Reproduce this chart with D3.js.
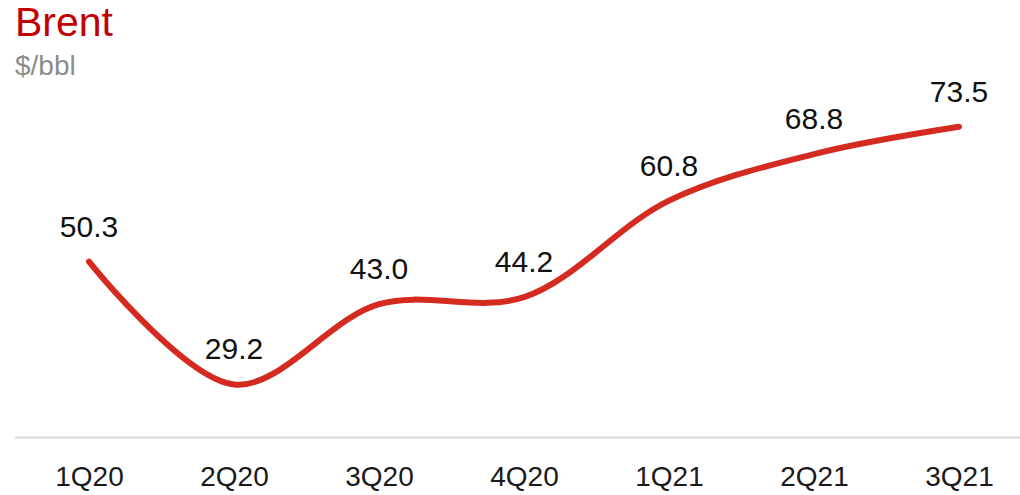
<!DOCTYPE html>
<html>
<head>
<meta charset="utf-8">
<script src="https://cdn.jsdelivr.net/npm/d3@7"></script>
<style>
  html, body { margin: 0; padding: 0; background: #ffffff; }
  svg { display: block; font-family: "Liberation Sans", Arial, sans-serif; }
</style>
</head>
<body>
<svg id="chart" width="1020" height="495"></svg>
<script>
// Quarterly Brent average price, $/bbl
const quarters = ["1Q20", "2Q20", "3Q20", "4Q20", "1Q21", "2Q21", "3Q21"];
const brentPrice = [50.3, 29.2, 43.0, 44.2, 60.8, 68.8, 73.5];

const svg = d3.select("#chart");

const x = d3.scalePoint()
  .domain(quarters)
  .range([89, 959]);

const y = d3.scaleLinear()
  .domain([20, 75])
  .range([438, 118]);

// Title block
svg.append("text")
  .attr("x", 15).attr("y", 36)
  .attr("fill", "#c00000")
  .attr("font-size", 41)
  .text("Brent");

svg.append("text")
  .attr("x", 15).attr("y", 75)
  .attr("fill", "#8c8c8c")
  .attr("font-size", 28)
  .text("$/bbl");

// Baseline
svg.append("line")
  .attr("x1", 15).attr("x2", 1020)
  .attr("y1", 437.5).attr("y2", 437.5)
  .attr("stroke", "#d9d9d9")
  .attr("stroke-width", 2);

// Category labels along the bottom
const xAxis = d3.axisBottom(x).tickSize(0).tickPadding(0);
const axisG = svg.append("g")
  .attr("transform", "translate(0,486)")
  .call(xAxis);
axisG.select(".domain").remove();
axisG.selectAll("text")
  .attr("dy", null)
  .attr("font-size", 28)
  .attr("font-family", "Liberation Sans, Arial, sans-serif")
  .attr("fill", "#1a1a1a");

// Smoothed price line
const line = d3.line()
  .x((d, i) => x(quarters[i]))
  .y(d => y(d))
  .curve(d3.curveCatmullRom.alpha(0.5));

svg.append("path")
  .datum(brentPrice)
  .attr("d", line)
  .attr("fill", "none")
  .attr("stroke", "#d42a1f")
  .attr("stroke-width", 6)
  .attr("stroke-linecap", "round")
  .attr("stroke-linejoin", "round");

// Value labels above each point
svg.append("g")
  .selectAll("text")
  .data(brentPrice)
  .join("text")
  .attr("x", (d, i) => x(quarters[i]))
  .attr("y", d => y(d) - 25)
  .attr("text-anchor", "middle")
  .attr("font-size", 30)
  .attr("fill", "#111111")
  .text(d => d.toFixed(1));
</script>
</body>
</html>
